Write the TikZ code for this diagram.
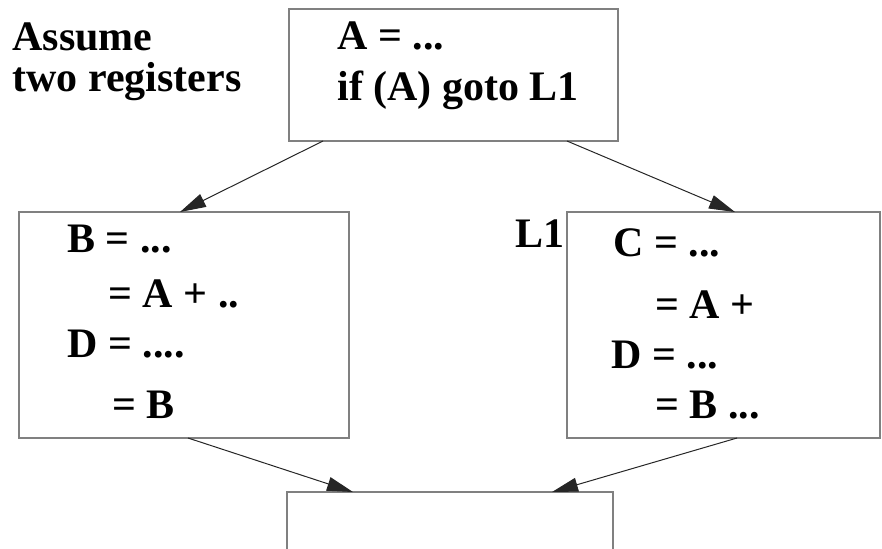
\documentclass[tikz,border=0pt]{standalone}
\usepackage{fontspec}
\setmainfont{Liberation Serif}
\usetikzlibrary{arrows.meta}
\begin{document}
\begin{tikzpicture}[x=0.5pt,y=-0.5pt,
  blockbox/.style={draw=black!50,line width=0.8pt,inner sep=0pt,outer sep=0pt,fill=none},
  arr/.style={draw=black!85,line width=0.5pt,-{Triangle[length=13pt,width=7pt]}},
  txt/.style={anchor=base west,inner sep=0pt,font=\fontsize{21}{21}\selectfont\bfseries}]
\useasboundingbox (0,0) rectangle (882,548);
% blocks
\node[blockbox,minimum width=164.5pt,minimum height=66pt] (top) at (453.5,75) {};
\node[blockbox,minimum width=165pt,minimum height=113pt] (left) at (184,325) {};
\node[blockbox,minimum width=156.5pt,minimum height=113pt] (right) at (723.5,325) {};
\node[blockbox,minimum width=163pt,minimum height=60pt] (bottom) at (450,552) {};
% texts
\node[txt] (t1) at (12,50) {Assume};
\node[txt] (t2) at (12,91) {two registers};
\node[txt] (a1) at (337,49) {A = ...};
\node[txt] (a2) at (337,100) {if (A) goto L1};
\node[txt] (b1) at (67,252) {B = ...};
\node[txt] (b2) at (108,307) {= A + ..};
\node[txt] (b3) at (67,357) {D = ....};
\node[txt] (b4) at (112,418) {= B};
\node[txt] (l1) at (515,247) {L1};
\node[txt] (c1) at (613,256) {C = ...};
\node[txt] (c2) at (655,318) {= A +};
\node[txt] (c3) at (611,368) {D = ...};
\node[txt] (c4) at (655,418) {= B ...};
% connectors
\draw[arr] ([xshift=17pt]top.south west) -- ([xshift=80.5pt]left.north west);
\draw[arr] ([xshift=139pt]top.south west) -- ([xshift=84pt]right.north west);
\draw[arr] ([xshift=84.5pt]left.south west) -- ([xshift=33pt]bottom.north west);
\draw[arr] ([xshift=85pt]right.south west) -- ([xshift=132.5pt]bottom.north west);
\end{tikzpicture}
\end{document}
